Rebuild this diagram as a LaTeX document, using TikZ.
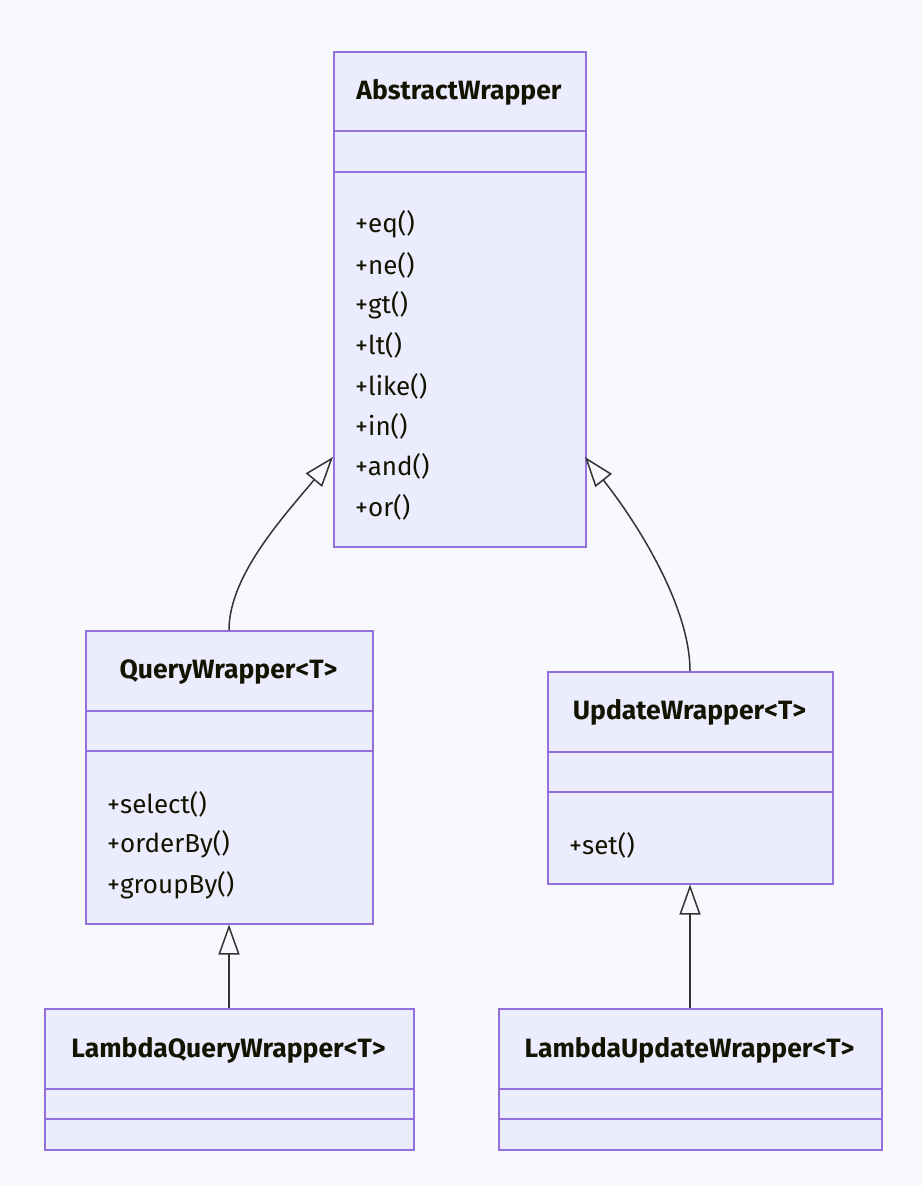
\documentclass[tikz,border=0pt]{standalone}
\usepackage{fontspec}
\setmainfont{Fira Sans}
\usetikzlibrary{arrows.meta}
\definecolor{bgc}{HTML}{F8F9FC}
\definecolor{boxfill}{HTML}{ECECFF}
\definecolor{boxline}{HTML}{9370DB}
\definecolor{txt}{HTML}{131300}
\definecolor{edge}{HTML}{333333}
\tikzset{
  cls/.style={draw=boxline, fill=boxfill, line width=1.5pt, inner sep=0pt, anchor=north west},
  divider/.style={draw=boxline, line width=1.5pt},
  title/.style={font=\fontsize{26.5}{30}\selectfont\bfseries, text=txt, inner sep=0pt},
  meth/.style={font=\fontsize{26}{30}\selectfont, text=txt, inner sep=0pt, anchor=west},
  inh/.style={draw=edge, line width=1.5pt, -{Triangle[open, length=30pt, width=21pt, line width=1.5pt]}},
}
\begin{document}
\begin{tikzpicture}[x=1pt,y=-1pt]
\useasboundingbox[fill=bgc] (0,0) rectangle (923,1186);
% AbstractWrapper
\node[cls, minimum width=252pt, minimum height=495pt] (aw) at (333,51) {};
\draw[divider] (333,131) -- (585,131);
\draw[divider] (333,172) -- (585,172);
\node[title] (awt) at (459,92) {AbstractWrapper};
\node[meth] (m1) at (355,224) {+eq()};
\node[meth] (m2) at (355,265) {+ne()};
\node[meth] (m3) at (355,305) {+gt()};
\node[meth] (m4) at (355,345) {+lt()};
\node[meth] (m5) at (355,386) {+like()};
\node[meth] (m6) at (355,426) {+in()};
\node[meth] (m7) at (355,466) {+and()};
\node[meth] (m8) at (355,507) {+or()};
% QueryWrapper
\node[cls, minimum width=287pt, minimum height=293pt] (qw) at (85,630) {};
\draw[divider] (85,711) -- (372,711);
\draw[divider] (85,751) -- (372,751);
\node[title] (qwt) at (228.5,672) {QueryWrapper<T>};
\node[meth] (q1) at (107,804) {+select()};
\node[meth] (q2) at (107,844) {+orderBy()};
\node[meth] (q3) at (107,885) {+groupBy()};
% UpdateWrapper
\node[cls, minimum width=285pt, minimum height=212pt] (uw) at (547,671) {};
\draw[divider] (547,752) -- (832,752);
\draw[divider] (547,792) -- (832,792);
\node[title] (uwt) at (689.5,712) {UpdateWrapper<T>};
\node[meth] (u1) at (569,845) {+set()};
% LambdaQueryWrapper
\node[cls, minimum width=369pt, minimum height=141pt] (lq) at (44,1008) {};
\draw[divider] (44,1089) -- (413,1089);
\draw[divider] (44,1119) -- (413,1119);
\node[title] (lqt) at (228.5,1050) {LambdaQueryWrapper<T>};
% LambdaUpdateWrapper
\node[cls, minimum width=383pt, minimum height=141pt] (lu) at (498,1008) {};
\draw[divider] (498,1089) -- (881,1089);
\draw[divider] (498,1119) -- (881,1119);
\node[title] (lut) at (689.5,1050) {LambdaUpdateWrapper<T>};
% connectors
\coordinate (awL) at (333,457);
\coordinate (awR) at (585,457);
\coordinate (qwTop) at (229,630);
\coordinate (uwTop) at (690,671);
\draw[inh] (qwTop) .. controls (229,575) and (285,515) .. (awL);
\draw[inh] (uwTop) .. controls (690,605) and (635,520) .. (awR);
\draw[inh] (lq.north -| qwTop) -- (qw.south -| qwTop);
\draw[inh] (lu.north -| uwTop) -- (uw.south -| uwTop);
\end{tikzpicture}
\end{document}
